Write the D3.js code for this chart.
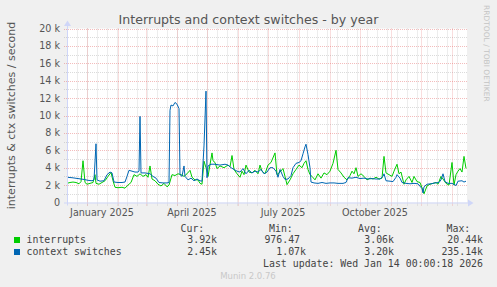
<!DOCTYPE html>
<html>
<head>
<meta charset="utf-8">
<script src="https://cdn.jsdelivr.net/npm/d3@7"></script>
<style>
  body { margin: 0; background: #f0f0f0; }
  svg { display: block; }
  text { white-space: pre; }
</style>
</head>
<body>
<div id="chart"></div>
<script>
// interrupts per second (k), daily averages
const intDates = ["2024-12-12","2024-12-15","2024-12-18","2024-12-21","2024-12-24","2024-12-26","2024-12-28","2024-12-30",
  "2025-01-01","2025-01-04","2025-01-07","2025-01-09","2025-01-10","2025-01-13","2025-01-16","2025-01-19","2025-01-22","2025-01-25","2025-01-27","2025-01-29",
  "2025-02-01","2025-02-05","2025-02-08","2025-02-11","2025-02-14","2025-02-17","2025-02-20","2025-02-23","2025-02-26",
  "2025-03-01","2025-03-03","2025-03-05","2025-03-07","2025-03-10","2025-03-13","2025-03-16","2025-03-19","2025-03-22","2025-03-24","2025-03-27","2025-03-30",
  "2025-04-02","2025-04-05","2025-04-08","2025-04-11","2025-04-14","2025-04-16","2025-04-19","2025-04-22","2025-04-24","2025-04-26","2025-04-28","2025-04-30",
  "2025-05-02","2025-05-06","2025-05-07","2025-05-09","2025-05-11","2025-05-14","2025-05-18","2025-05-22","2025-05-24","2025-05-26","2025-05-28","2025-05-31",
  "2025-06-03","2025-06-05","2025-06-07","2025-06-09","2025-06-12","2025-06-15","2025-06-18","2025-06-21","2025-06-23","2025-06-25","2025-06-28",
  "2025-07-01","2025-07-04","2025-07-08","2025-07-10","2025-07-13","2025-07-16","2025-07-18","2025-07-20","2025-07-23","2025-07-26","2025-07-29",
  "2025-08-01","2025-08-04","2025-08-06","2025-08-08","2025-08-10","2025-08-12","2025-08-14","2025-08-17","2025-08-20","2025-08-23","2025-08-26","2025-08-29",
  "2025-09-01","2025-09-04","2025-09-07","2025-09-09","2025-09-12","2025-09-15","2025-09-18","2025-09-21","2025-09-23","2025-09-25","2025-09-27","2025-09-29",
  "2025-10-02","2025-10-05","2025-10-08","2025-10-11","2025-10-14","2025-10-17","2025-10-20","2025-10-23","2025-10-25","2025-10-27","2025-10-30",
  "2025-11-02","2025-11-04","2025-11-07","2025-11-09","2025-11-11","2025-11-14","2025-11-16","2025-11-19","2025-11-22","2025-11-24","2025-11-27","2025-11-30",
  "2025-12-02","2025-12-04","2025-12-07","2025-12-10","2025-12-13","2025-12-16","2025-12-18","2025-12-21","2025-12-23","2025-12-26","2025-12-29",
  "2026-01-01","2026-01-03","2026-01-05","2026-01-07","2026-01-09","2026-01-11","2026-01-13","2026-01-15"];
const intValues = [2.2,2.3,2.35,2.3,2.15,2.4,4.8,2.3,
  2.1,2.2,2.3,3.2,2.2,2.1,2.3,2.5,3.0,3.45,2.5,1.75,
  1.7,1.75,1.65,2.0,2.3,3.2,3.0,3.3,3.0,
  3.2,2.9,4.2,2.7,2.5,2.1,1.9,2.2,1.8,2.0,3.2,3.1,
  3.3,3.2,3.0,3.3,3.7,2.9,2.6,2.6,2.2,2.1,4.75,4.0,
  3.0,5.7,4.8,4.6,3.9,4.2,4.0,4.3,4.1,5.4,3.8,3.3,
  2.9,3.6,3.2,4.3,3.5,3.4,3.7,3.3,4.3,3.6,3.3,
  4.3,4.6,5.7,3.2,3.5,3.9,3.0,2.05,2.6,3.3,3.8,
  4.3,4.0,4.5,4.8,3.8,3.2,3.0,2.6,3.3,2.8,3.4,3.2,
  3.6,4.5,6.0,3.8,3.4,2.9,2.6,3.1,3.6,3.3,4.0,3.0,
  3.3,3.0,2.6,2.8,2.7,2.9,2.7,2.8,5.3,3.4,3.2,
  3.0,3.6,4.4,3.3,3.5,2.1,2.6,3.0,2.3,3.0,2.4,2.3,
  1.7,1.0,1.9,2.1,2.2,2.3,2.1,3.0,2.7,2.2,2.0,
  4.6,2.0,3.2,3.6,3.9,3.5,5.3,3.92];

// context switches per second (k), daily averages
const ctxDates = ["2024-12-12","2024-12-17","2024-12-23","2024-12-29",
  "2025-01-02","2025-01-06","2025-01-08","2025-01-10","2025-01-11","2025-01-14","2025-01-18","2025-01-21","2025-01-24","2025-01-26","2025-01-28",
  "2025-02-01","2025-02-05","2025-02-08","2025-02-10","2025-02-12","2025-02-15","2025-02-18","2025-02-21","2025-02-22","2025-02-23","2025-02-24","2025-02-28",
  "2025-03-05","2025-03-08","2025-03-11","2025-03-14","2025-03-18","2025-03-22","2025-03-24","2025-03-25","2025-03-26","2025-03-28","2025-03-30",
  "2025-04-01","2025-04-03","2025-04-04","2025-04-06","2025-04-08","2025-04-09","2025-04-12","2025-04-15","2025-04-18","2025-04-21","2025-04-24","2025-04-26","2025-04-28","2025-04-30",
  "2025-05-01","2025-05-02","2025-05-05","2025-05-09","2025-05-14","2025-05-19","2025-05-22","2025-05-25","2025-05-28","2025-05-31",
  "2025-06-03","2025-06-06","2025-06-09","2025-06-12","2025-06-15","2025-06-18","2025-06-21","2025-06-24","2025-06-27","2025-06-30",
  "2025-07-03","2025-07-06","2025-07-09","2025-07-11","2025-07-13","2025-07-16","2025-07-18","2025-07-21","2025-07-24","2025-07-26","2025-07-29",
  "2025-08-01","2025-08-03","2025-08-05","2025-08-07","2025-08-08","2025-08-10","2025-08-12","2025-08-13","2025-08-16","2025-08-20","2025-08-24","2025-08-28",
  "2025-09-01","2025-09-05","2025-09-09","2025-09-14","2025-09-17","2025-09-19","2025-09-23","2025-09-27",
  "2025-10-01","2025-10-05","2025-10-09","2025-10-13","2025-10-17","2025-10-21","2025-10-24","2025-10-25","2025-10-27","2025-10-31",
  "2025-11-03","2025-11-06","2025-11-07","2025-11-10","2025-11-12","2025-11-16","2025-11-20","2025-11-24","2025-11-28",
  "2025-12-02","2025-12-03","2025-12-04","2025-12-07","2025-12-11","2025-12-15","2025-12-19","2025-12-21","2025-12-23","2025-12-25","2025-12-28",
  "2026-01-01","2026-01-05","2026-01-07","2026-01-11","2026-01-13","2026-01-15"];
const ctxValues = [2.9,2.85,2.75,2.65,
  2.55,2.5,2.6,6.75,2.6,2.45,2.5,3.2,3.5,3.4,2.35,
  2.3,2.3,2.35,3.0,3.7,3.6,3.5,3.5,3.6,9.9,3.4,3.4,
  3.3,3.0,2.8,2.3,2.25,2.25,2.3,10.6,11.2,11.1,11.5,
  11.3,10.8,3.2,3.0,4.2,3.0,2.6,2.8,2.5,2.7,2.5,2.45,6.5,12.8,
  2.85,4.2,4.4,4.4,4.3,4.4,4.3,4.0,3.8,3.6,
  3.5,3.9,3.3,3.7,3.4,3.6,3.5,3.8,3.3,3.5,
  4.0,4.0,3.6,2.9,3.8,3.0,2.65,2.7,3.1,4.0,4.5,
  4.6,4.8,5.6,6.4,6.7,5.5,4.0,2.35,2.25,2.2,2.3,2.2,
  2.25,2.25,2.2,2.2,2.3,2.85,2.8,2.9,
  2.75,2.8,2.7,2.75,2.7,2.7,3.0,3.3,2.5,2.45,
  2.4,2.9,3.2,2.8,2.3,2.2,2.15,2.2,2.15,
  1.6,1.1,1.8,2.1,2.15,2.25,2.3,2.6,3.3,2.4,2.2,
  2.2,1.95,2.45,2.5,2.35,2.45];

const yTicks = [0, 2, 4, 6, 8, 10, 12, 14, 16, 18, 20];
const labelMonths = ["2025-01-01", "2025-04-01", "2025-07-01", "2025-10-01"];

const seriesNames = ["interrupts", "context switches"];
const seriesColors = ["#00cc00", "#0066b3"];
const curVals = ["3.92k", "2.45k"];
const minVals = ["976.47 ", "1.07k"];
const avgVals = ["3.06k", "3.20k"];
const maxVals = ["20.44k", "235.14k"];

const width = 497, height = 287;
const parse = d3.timeParse("%Y-%m-%d");
const start = parse("2024-12-12"), end = parse("2026-01-16");
const plotLeft = 67, plotRight = 467, plotTop = 28.5, plotBottom = 202.5;

const x = d3.scaleTime().domain([start, end]).range([plotLeft, plotRight]);
const y = d3.scaleLinear().domain([0, 20]).range([plotBottom, plotTop]);
const px = v => Math.round(v) + 0.5;

const svg = d3.create("svg")
  .attr("width", width)
  .attr("height", height)
  .attr("viewBox", [0, 0, width, height])
  .style("font-family", "'DejaVu Sans', sans-serif");

svg.append("rect").attr("width", width).attr("height", height).attr("fill", "#f0f0f0");
svg.append("rect")
  .attr("x", plotLeft).attr("y", plotTop)
  .attr("width", plotRight - plotLeft).attr("height", plotBottom - plotTop)
  .attr("fill", "#ffffff");

// minor grid
const minorX = d3.range(10, 400, 10).map(k => d3.timeDay.offset(start, k));
const minorY = d3.range(1, 20, 2);
const grid = svg.append("g").attr("stroke-dasharray", "1,1").attr("stroke-width", 1);
const minorColor = "rgba(143,143,143,0.32)", majorColor = "rgba(224,80,80,0.38)";

grid.append("g")
  .attr("stroke", minorColor)
  .selectAll("line")
  .data(minorX)
  .join("line")
    .attr("x1", d => px(x(d))).attr("x2", d => px(x(d)))
    .attr("y1", plotTop).attr("y2", plotBottom + 3);

grid.append("g")
  .attr("stroke", minorColor)
  .selectAll("line")
  .data(minorY)
  .join("line")
    .attr("x1", plotLeft - 3).attr("x2", plotRight)
    .attr("y1", d => px(y(d))).attr("y2", d => px(y(d)));

// major grid
const months = d3.timeMonth.range(start, end);
grid.append("g")
  .attr("stroke", majorColor)
  .selectAll("line")
  .data(months)
  .join("line")
    .attr("x1", d => px(x(d))).attr("x2", d => px(x(d)))
    .attr("y1", plotTop).attr("y2", plotBottom + 3);

grid.append("g")
  .attr("stroke", majorColor)
  .selectAll("line")
  .data(yTicks.slice(1))
  .join("line")
    .attr("x1", plotLeft - 3).attr("x2", plotRight)
    .attr("y1", d => px(y(d))).attr("y2", d => px(y(d)));

// y tick labels
svg.append("g")
  .attr("fill", "#555")
  .attr("font-size", 9.6)
  .attr("text-anchor", "end")
  .selectAll("text")
  .data(yTicks)
  .join("text")
    .attr("x", 60)
    .attr("y", d => y(d))
    .attr("dy", "0.36em")
    .text(d => d === 0 ? "0" : d + " k");

// x labels, centred half a month after the month start
const fmt = d3.timeFormat("%B %Y");
svg.append("g")
  .attr("fill", "#555")
  .attr("font-size", 9.6)
  .attr("text-anchor", "middle")
  .selectAll("text")
  .data(labelMonths.map(parse))
  .join("text")
    .attr("x", d => x(d3.timeDay.offset(d, 15)))
    .attr("y", 215.5)
    .text(fmt);

// series
const line = d3.line()
  .x(d => x(d.date))
  .y(d => y(d.value));

const series = [
  intDates.map((d, i) => ({date: parse(d), value: intValues[i]})),
  ctxDates.map((d, i) => ({date: parse(d), value: ctxValues[i]}))
];

svg.append("g")
  .attr("fill", "none")
  .attr("stroke-width", 1)
  .attr("stroke-linejoin", "round")
  .selectAll("path")
  .data(series)
  .join("path")
    .attr("stroke", (d, i) => seriesColors[i])
    .attr("d", line);

// axes with arrows
const axisColor = "#cfd6f8";
svg.append("line")
  .attr("x1", plotLeft - 3).attr("x2", plotRight + 2)
  .attr("y1", plotBottom + 0.5).attr("y2", plotBottom + 0.5)
  .attr("stroke", axisColor);
svg.append("line")
  .attr("x1", plotLeft + 0.5).attr("x2", plotLeft + 0.5)
  .attr("y1", plotBottom + 3).attr("y2", plotTop - 3)
  .attr("stroke", axisColor);
svg.append("path")
  .attr("d", `M${plotRight + 1},${plotBottom - 3} L${plotRight + 6.5},${plotBottom + 0.5} L${plotRight + 1},${plotBottom + 4} Z`)
  .attr("fill", axisColor);
svg.append("path")
  .attr("d", `M${plotLeft - 3},${plotTop - 2.5} L${plotLeft + 0.5},${plotTop - 8} L${plotLeft + 4},${plotTop - 2.5} Z`)
  .attr("fill", axisColor);

// titles
svg.append("text")
  .attr("x", width / 2)
  .attr("y", 24)
  .attr("text-anchor", "middle")
  .attr("font-size", 12.6)
  .attr("fill", "#555")
  .text("Interrupts and context switches - by year");

svg.append("text")
  .attr("transform", `translate(15,${(plotTop + plotBottom) / 2}) rotate(-90)`)
  .attr("text-anchor", "middle")
  .attr("font-size", 11)
  .attr("fill", "#555")
  .text("interrupts & ctx switches / second");

svg.append("text")
  .attr("transform", "translate(484,5) rotate(90)")
  .attr("font-size", 7.5)
  .attr("fill", "#c4c4c4")
  .text("RRDTOOL / TOBI OETIKER");

// legend
const legend = svg.append("g")
  .attr("font-family", "'DejaVu Sans Mono', monospace")
  .attr("font-size", 9.9)
  .attr("fill", "#444");

const headers = [["Cur:", 180.5], ["Min:", 269], ["Avg:", 358], ["Max:", 446.5]];
legend.selectAll(".hdr")
  .data(headers)
  .join("text")
    .attr("class", "hdr")
    .attr("x", d => d[1])
    .attr("y", 231.5)
    .text(d => d[0]);

const rowY = [243, 255];
seriesNames.forEach((name, i) => {
  legend.append("rect")
    .attr("x", 14).attr("y", rowY[i] - 6)
    .attr("width", 6).attr("height", 6)
    .attr("fill", seriesColors[i]);
  legend.append("text").attr("x", 26.5).attr("y", rowY[i]).text(name);
  const cols = [[curVals[i], 217], [minVals[i], 306], [avgVals[i], 394], [maxVals[i], 483]];
  cols.forEach(([v, cx]) => {
    legend.append("text")
      .attr("x", cx).attr("y", rowY[i])
      .attr("text-anchor", "end")
      .text(v);
  });
});

legend.append("text")
  .attr("x", 483).attr("y", 267)
  .attr("text-anchor", "end")
  .text("Last update: Wed Jan 14 00:00:18 2026");

svg.append("text")
  .attr("x", 248).attr("y", 279)
  .attr("text-anchor", "middle")
  .attr("font-size", 8.5)
  .attr("fill", "#c8c8c8")
  .text("Munin 2.0.76");

document.getElementById("chart").appendChild(svg.node());
</script>
</body>
</html>
